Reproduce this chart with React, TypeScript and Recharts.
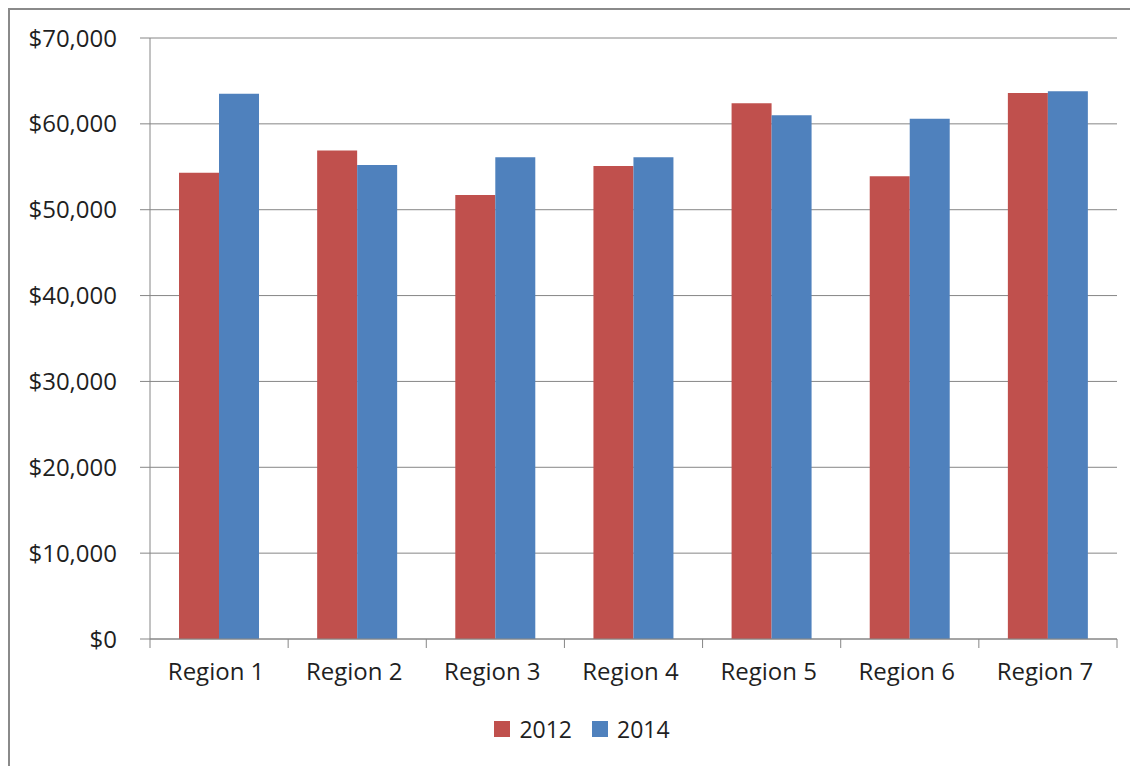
import React from 'react';
import { BarChart, Bar, XAxis, YAxis, CartesianGrid, Legend } from 'recharts';

const regions = ['Region 1', 'Region 2', 'Region 3', 'Region 4', 'Region 5', 'Region 6', 'Region 7'];
const sales2012 = [54300, 56900, 51700, 55100, 62400, 53900, 63600];
const sales2014 = [63500, 55200, 56100, 56100, 61000, 60600, 63800];
const yTicks = [0, 10000, 20000, 30000, 40000, 50000, 60000, 70000];

const data = regions.map((region, i) => ({
  region,
  y2012: sales2012[i],
  y2014: sales2014[i],
}));

const FONT = '"Open Sans", sans-serif';
const TEXT = '#1f1f1f';
const AXIS = '#868686';
const RED = '#C0504D';
const BLUE = '#4F81BD';

const TICK_SIZE = 9;
const TICK_MARGIN = 15;

// category label plus a tick mark on the category boundaries (Excel style)
function RegionTick(props: any) {
  const { x, y, payload, index, width, visibleTicksCount } = props;
  const count = visibleTicksCount || regions.length;
  const band = (width || 967) / count;
  const axisY = y - TICK_SIZE - TICK_MARGIN;
  const left = x - band / 2;
  const right = x + band / 2;
  return (
    <g>
      <line x1={left} x2={left} y1={axisY} y2={axisY + TICK_SIZE} stroke={AXIS} />
      {index === count - 1 && (
        <line x1={right} x2={right} y1={axisY} y2={axisY + TICK_SIZE} stroke={AXIS} />
      )}
      <text x={x - 3} y={y} dy="0.71em" textAnchor="middle" fill={TEXT} fontSize={24} fontFamily={FONT}>
        {payload.value}
      </text>
    </g>
  );
}

function renderLegend() {
  const items = [
    { label: '2012', color: RED },
    { label: '2014', color: BLUE },
  ];
  return (
    <div style={{ display: 'flex', justifyContent: 'center', alignItems: 'center', height: 30 }}>
      {items.map((it, i) => (
        <div key={it.label} style={{ display: 'flex', alignItems: 'center', marginLeft: i ? 20 : 0 }}>
          <span style={{ width: 16, height: 16, background: it.color, display: 'inline-block', marginRight: 9 }} />
          <span style={{ fontFamily: FONT, fontSize: 23, color: TEXT, lineHeight: '30px' }}>{it.label}</span>
        </div>
      ))}
    </div>
  );
}

export default function App() {
  return (
    <div
      style={{
        width: 1130,
        height: 758,
        boxSizing: 'border-box',
        borderTop: '2px solid #8a8a8a',
        borderLeft: '2px solid #8a8a8a',
        overflow: 'hidden',
        background: '#fff',
      }}
    >
      <BarChart
        width={1138}
        height={760}
        data={data}
        margin={{ top: 28, right: 31, left: 0, bottom: 26 }}
        barCategoryGap="21%"
        barGap={0}
      >
        <CartesianGrid vertical={false} stroke={AXIS} strokeDasharray="" />
        <XAxis
          dataKey="region"
          height={75}
          stroke={AXIS}
          tickLine={false}
          tickSize={TICK_SIZE}
          tickMargin={TICK_MARGIN}
          tick={<RegionTick />}
          interval={0}
        />
        <YAxis
          width={140}
          domain={[0, 70000]}
          ticks={yTicks}
          stroke={AXIS}
          tickSize={10}
          tickMargin={23}
          tick={{ fill: TEXT, fontSize: 24, fontFamily: FONT }}
          tickFormatter={(v: number) => `$${v.toLocaleString('en-US')}`}
        />
        <Legend
          verticalAlign="bottom"
          content={renderLegend}
          wrapperStyle={{ left: 0, width: 1144 }}
        />
        <Bar dataKey="y2012" name="2012" fill={RED} isAnimationActive={false} />
        <Bar dataKey="y2014" name="2014" fill={BLUE} isAnimationActive={false} />
      </BarChart>
    </div>
  );
}
